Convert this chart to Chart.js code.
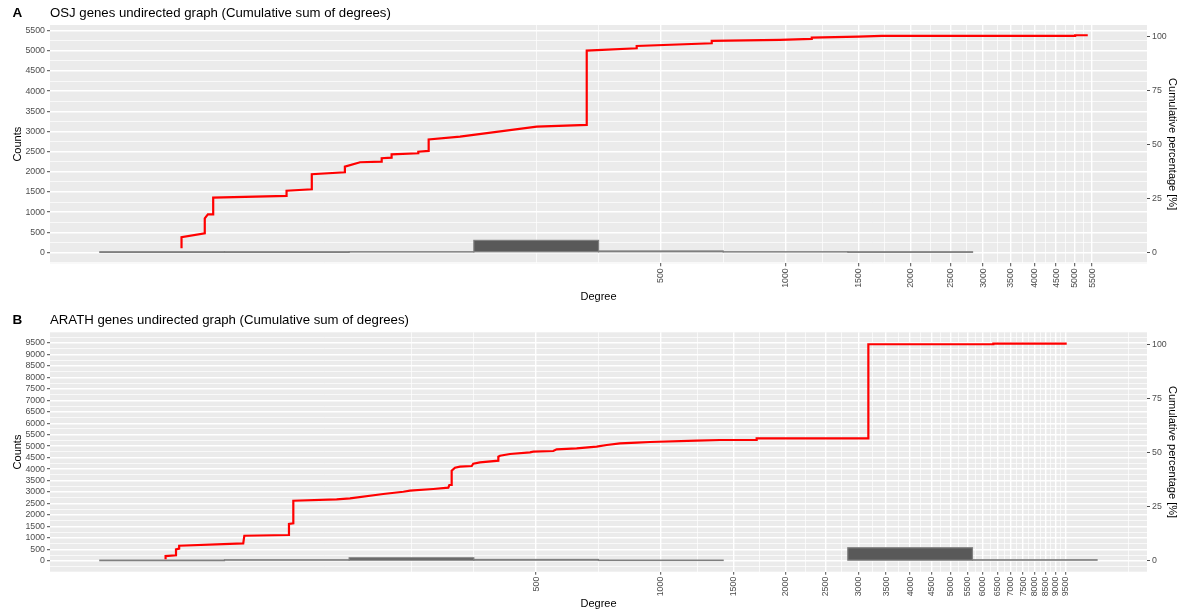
<!DOCTYPE html>
<html>
<head>
<meta charset="utf-8">
<script src="https://cdn.jsdelivr.net/npm/chart.js@4.4.1/dist/chart.umd.min.js"></script>
<style>
  html, body { margin: 0; padding: 0; background: #ffffff; }
  body { width: 1182px; height: 613px; position: relative; overflow: hidden; }
  .panel { position: absolute; left: 0; width: 1182px; }
  canvas { display: block; }
</style>
</head>
<body>
<div class="panel" style="top:0;height:306px"><canvas id="osj" width="1182" height="306"></canvas></div>
<div class="panel" style="top:306px;height:307px"><canvas id="arath" width="1182" height="307"></canvas></div>
<script>
// ---- OSJ (rice) degree data ----
// histogram of node degrees, log2-spaced bins (bin centres)
const osjBinCenters = [31.25, 62.5, 125, 250, 500, 1000, 2000, 4000];
const osjBinCounts  = [2, 2, 12, 300, 38, 12, 4, 0];
// cumulative sum of degrees (vertices of the step curve)
const osjDegree = [34.8, 34.8, 39.6, 39.6, 40.3, 41.5, 41.5, 62.4, 62.4, 71.8,
  71.8, 86.3, 86.3, 93.9, 105.9, 105.9, 111.9, 111.9, 129.8, 129.8,
  137.5, 137.5, 163.7, 250.7, 331.1, 331.1, 437.1, 437.1, 663.4, 663.4,
  969.9, 1157, 1157, 1499, 1707, 5003, 5003, 5367];
const osjCumSum = [104, 377, 476, 848, 947, 947, 1358, 1401, 1532, 1567,
  1939, 1988, 2127, 2236, 2251, 2335, 2350, 2434, 2459, 2499,
  2516, 2800, 2871, 3118, 3161, 5002, 5062, 5119, 5186, 5243,
  5268, 5292, 5325, 5350, 5367, 5367, 5384, 5384];
const osjTotal = 5350;
const osjXTicks = [500, 1000, 1500, 2000, 2500, 3000, 3500, 4000, 4500, 5000, 5500];
const osjYTicks = [0, 500, 1000, 1500, 2000, 2500, 3000, 3500, 4000, 4500, 5000, 5500];

// ---- ARATH (Arabidopsis) degree data ----
const arathBinCenters = [62.5, 125, 250, 500, 1000, 2000, 4000, 8000];
const arathBinCounts  = [6, 45, 130, 60, 15, 0, 570, 45];
const arathDegree = [63.7, 63.7, 67.5, 67.5, 68.7, 68.7, 98.1, 98.7, 126.5, 126.5,
  129.6, 129.6, 164.9, 177.6, 213.7, 238.9, 247.9, 282.2, 306.8, 308.6,
  312.6, 312.6, 318.4, 327.4, 349.5, 352.5, 366, 405.2, 405.2, 409,
  432.3, 483.1, 492.2, 549.9, 560.6, 626.3, 700, 740.2, 797, 874.7,
  941.7, 1221, 1390, 1704, 1704, 3171, 3171, 6353, 6353, 9555];
const arathCumSum = [65, 209, 240, 502, 530, 659, 763, 1095, 1125, 1605,
  1635, 2621, 2682, 2726, 2913, 3013, 3057, 3131, 3188, 3306,
  3306, 3929, 4060, 4104, 4134, 4235, 4296, 4365, 4540, 4584,
  4658, 4732, 4758, 4788, 4863, 4906, 4976, 5050, 5124, 5150,
  5181, 5238, 5268, 5268, 5342, 5342, 9442, 9442, 9468, 9468];
const arathTotal = 9450;
const arathXTicks = [500, 1000, 1500, 2000, 2500, 3000, 3500, 4000, 4500, 5000,
  5500, 6000, 6500, 7000, 7500, 8000, 8500, 9000, 9500];
const arathYTicks = [0, 500, 1000, 1500, 2000, 2500, 3000, 3500, 4000, 4500,
  5000, 5500, 6000, 6500, 7000, 7500, 8000, 8500, 9000, 9500];

const pctTicks = [0, 25, 50, 75, 100];

const FONT = "'Liberation Sans', Arial, Helvetica, sans-serif";
Chart.defaults.font.family = FONT;

// minor grid positions between major breaks (mid-points in transformed space)
function minorBreaks(majors, lo, hi, toT, fromT) {
  const b = majors.map(toT);
  const d = b[1] - b[0];
  if (toT(lo) < b[0]) b.unshift(b[0] - d);
  if (toT(hi) > b[b.length - 1]) b.push(b[b.length - 1] + d);
  const out = [];
  for (let i = 0; i < b.length - 1; i++) { out.push(b[i]); out.push((b[i] + b[i + 1]) / 2); }
  out.push(b[b.length - 1]);
  return out.map(fromT).filter(v => v >= lo && v <= hi &&
    !majors.some(m => Math.abs(m - v) <= 1e-6 * Math.max(1, Math.abs(m))));
}
const logT = v => Math.log10(v), logInv = v => Math.pow(10, v);
const idT = v => v;

function tickSet(majors, minors) {
  return majors.map(v => ({ value: v, isMinor: false }))
    .concat(minors.map(v => ({ value: v, isMinor: true })))
    .sort((a, b) => a.value - b.value);
}

const gridColor = c => '#FFFFFF';
const gridWidth = c => (c.tick && c.tick.isMinor ? 0.7 : 1.4);
const tickColor = c => (c.tick && c.tick.isMinor ? 'rgba(0,0,0,0)' : '#4D4D4D');

const panelBackground = {
  id: 'panelBackground',
  beforeDraw(chart) {
    const a = chart.chartArea, ctx = chart.ctx;
    ctx.save();
    ctx.fillStyle = '#EBEBEB';
    ctx.fillRect(a.left, a.top, a.right - a.left, a.bottom - a.top);
    ctx.restore();
  }
};

// outline around each non-empty histogram bar
const barOutline = {
  id: 'barOutline',
  afterDatasetDraw(chart, args) {
    const meta = args.meta;
    if (meta.type !== 'bar') return;
    const ctx = chart.ctx;
    ctx.save();
    ctx.strokeStyle = '#7F7F7F';
    ctx.lineWidth = 1.2;
    meta.data.forEach((bar, i) => {
      const v = chart.data.datasets[args.index].data[i].y;
      if (!v) return;
      const p = bar.getProps(['x', 'y', 'base', 'width'], true);
      ctx.strokeRect(p.x - p.width / 2, Math.min(p.y, p.base), p.width, Math.abs(p.base - p.y));
    });
    ctx.restore();
  }
};

const panelTag = {
  id: 'panelTag',
  afterDraw(chart, args, opts) {
    const ctx = chart.ctx;
    ctx.save();
    ctx.font = 'bold 13.5px ' + FONT;
    ctx.fillStyle = '#000000';
    ctx.textBaseline = 'middle';
    ctx.textAlign = 'left';
    ctx.fillText(opts.text, opts.x, opts.y);
    ctx.restore();
  }
};

function makePanel(id, p) {
  const xMinor = minorBreaks(p.xTicks, p.xMin, p.xMax, logT, logInv);
  const yMinor = minorBreaks(p.yTicks, p.yMin, p.yMax, idT, idT);
  const xTickObjs = tickSet(p.xTicks, xMinor);
  const yTickObjs = tickSet(p.yTicks, yMinor);

  return new Chart(document.getElementById(id), {
    type: 'line',
    data: {
      datasets: [
        {
          type: 'line',
          label: 'Cumulative sum of degrees',
          data: p.degree.map((d, i) => ({ x: d, y: p.cum[i] })),
          borderColor: '#FF0000',
          borderWidth: 2.2,
          borderJoinStyle: 'miter',
          tension: 0,
          pointRadius: 0,
          fill: false,
          order: 0
        },
        {
          type: 'bar',
          label: 'Counts',
          data: p.binCenters.map((c, i) => ({ x: c, y: p.binCounts[i] })),
          backgroundColor: '#595959',
          borderWidth: 0,
          inflateAmount: 0,
          barThickness: 'flex',
          categoryPercentage: 1,
          barPercentage: 1,
          order: 1
        }
      ]
    },
    options: {
      responsive: false,
      animation: false,
      events: [],
      layout: { padding: 0, autoPadding: false },
      plugins: {
        legend: { display: false },
        tooltip: { enabled: false },
        title: {
          display: true,
          text: p.title,
          align: 'start',
          fullSize: false,
          color: '#000000',
          font: { size: 13.2, weight: 'normal', family: FONT, lineHeight: 1.2 },
          padding: { top: p.titlePadTop, bottom: p.titlePadBottom }
        },
        panelTag: { text: p.tag, x: 12.5, y: p.tagY }
      },
      scales: {
        x: {
          type: 'logarithmic',
          position: 'bottom',
          min: p.xMin,
          max: p.xMax,
          bounds: 'data',
          offset: false,
          afterBuildTicks: s => { s.ticks = xTickObjs.map(t => Object.assign({}, t)); },
          afterFit: s => { s.height = p.xAxisH; },
          border: { display: false },
          grid: {
            offset: false,
            color: gridColor,
            lineWidth: gridWidth,
            tickColor: tickColor,
            tickLength: 3,
            tickWidth: 1
          },
          ticks: {
            autoSkip: false,
            minRotation: 90,
            maxRotation: 90,
            padding: 2,
            color: '#4D4D4D',
            font: { size: 8.8, family: FONT },
            callback: (v, i, ts) => (ts[i].isMinor ? '' : String(ts[i].value))
          },
          title: {
            display: true,
            text: 'Degree',
            color: '#000000',
            font: { size: 11, family: FONT, lineHeight: 1.2 },
            padding: { top: 0, bottom: 2.4 }
          }
        },
        y: {
          type: 'linear',
          position: 'left',
          min: p.yMin,
          max: p.yMax,
          bounds: 'data',
          afterBuildTicks: s => { s.ticks = yTickObjs.map(t => Object.assign({}, t)); },
          afterFit: s => { s.width = 50; },
          border: { display: false },
          grid: {
            color: gridColor,
            lineWidth: gridWidth,
            tickColor: tickColor,
            tickLength: 3,
            tickWidth: 1
          },
          ticks: {
            autoSkip: false,
            padding: 2,
            color: '#4D4D4D',
            font: { size: 8.8, family: FONT },
            callback: (v, i, ts) => (ts[i].isMinor ? '' : String(ts[i].value))
          },
          title: {
            display: true,
            text: 'Counts',
            color: '#000000',
            font: { size: 11, family: FONT, lineHeight: 1.2 },
            padding: { top: 11.7, bottom: 0 }
          }
        },
        yPct: {
          type: 'linear',
          position: 'right',
          display: true,
          min: p.yMin / p.total * 100,
          max: p.yMax / p.total * 100,
          bounds: 'data',
          afterBuildTicks: s => { s.ticks = pctTicks.map(v => ({ value: v })); },
          afterFit: s => { s.width = 35; },
          border: { display: false },
          grid: {
            drawOnChartArea: false,
            tickColor: '#4D4D4D',
            tickLength: 3,
            tickWidth: 1
          },
          ticks: {
            autoSkip: false,
            padding: 2,
            color: '#4D4D4D',
            font: { size: 8.8, family: FONT },
            callback: v => String(v)
          },
          title: {
            display: true,
            text: 'Cumulative percentage [%]',
            color: '#000000',
            font: { size: 11, family: FONT, lineHeight: 1.2 },
            padding: { top: 3.4, bottom: 0 }
          }
        }
      }
    },
    plugins: [panelBackground, barOutline, panelTag]
  });
}

makePanel('osj', {
  tag: 'A', tagY: 13.3,
  title: 'OSJ genes undirected graph (Cumulative sum of degrees)',
  titlePadTop: 5.5, titlePadBottom: 3.66,
  xAxisH: 42.7,
  binCenters: osjBinCenters, binCounts: osjBinCounts,
  degree: osjDegree, cum: osjCumSum, total: osjTotal,
  xTicks: osjXTicks, yTicks: osjYTicks,
  xMin: 16.75, xMax: 7460, yMin: -268, yMax: 5638
});

makePanel('arath', {
  tag: 'B', tagY: 14.5,
  title: 'ARATH genes undirected graph (Cumulative sum of degrees)',
  titlePadTop: 6.8, titlePadBottom: 3.66,
  xAxisH: 41.3,
  binCenters: arathBinCenters, binCounts: arathBinCounts,
  degree: arathDegree, cum: arathCumSum, total: arathTotal,
  xTicks: arathXTicks, yTicks: arathYTicks,
  xMin: 33.5, xMax: 14930, yMin: -474, yMax: 9964
});
</script>
</body>
</html>
